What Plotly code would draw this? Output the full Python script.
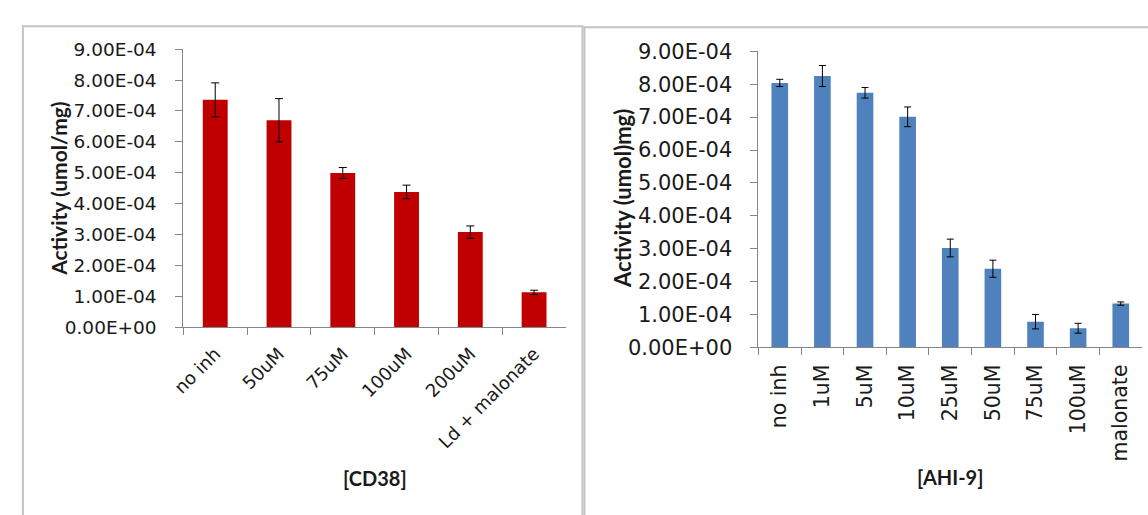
import plotly.graph_objects as go

W, H = 1148, 515

# CD38 panel
cd38_cats = ["no inh", "50uM", "75uM", "100uM", "200uM", "Ld + malonate"]
cd38_vals = [7.36e-4, 6.70e-4, 4.99e-4, 4.38e-4, 3.08e-4, 1.13e-4]
cd38_err = [0.55e-4, 0.70e-4, 0.18e-4, 0.22e-4, 0.20e-4, 0.07e-4]

# AHI-9 panel
ahi_cats = ["no inh", "1uM", "5uM", "10uM", "25uM", "50uM", "75uM", "100uM", "malonate"]
ahi_vals = [8.04e-4, 8.25e-4, 7.74e-4, 7.01e-4, 3.02e-4, 2.39e-4, 0.78e-4, 0.58e-4, 1.33e-4]
ahi_err = [0.11e-4, 0.32e-4, 0.16e-4, 0.30e-4, 0.27e-4, 0.26e-4, 0.22e-4, 0.15e-4, 0.05e-4]

y_tick_vals = [i * 1e-4 for i in range(10)]
y_tick_text = ["0.00E+00", "1.00E-04", "2.00E-04", "3.00E-04", "4.00E-04",
               "5.00E-04", "6.00E-04", "7.00E-04", "8.00E-04", "9.00E-04"]

AXIS_GRAY = "#868686"
TICK_FONT = "DejaVu Sans"
TITLE_FONT = "Lato"


def px_x(v):
    return v / W


def px_y(v):
    return 1 - v / H


fig = go.Figure()

fig.add_trace(go.Bar(
    x=cd38_cats, y=cd38_vals, xaxis="x", yaxis="y",
    marker=dict(color="#C00000", line=dict(width=0)),
    error_y=dict(type="data", array=cd38_err, visible=True,
                 color="#000000", thickness=1, width=4),
    showlegend=False,
))

fig.add_trace(go.Bar(
    x=ahi_cats, y=ahi_vals, xaxis="x2", yaxis="y2",
    marker=dict(color="#4F81BD", line=dict(width=0)),
    error_y=dict(type="data", array=ahi_err, visible=True,
                 color="#000000", thickness=1, width=3.5),
    showlegend=False,
))

common_x = dict(
    type="category", showline=True, linecolor=AXIS_GRAY, linewidth=1,
    ticks="outside", tickcolor=AXIS_GRAY, ticklen=7, tickson="boundaries",
    showgrid=False, zeroline=False, color="#1a1a1a",
)
common_y = dict(
    range=[0, 9e-4], showline=True, linecolor=AXIS_GRAY, linewidth=1,
    ticks="outside", tickcolor=AXIS_GRAY, ticklen=7,
    tickvals=y_tick_vals, ticktext=y_tick_text,
    showgrid=False, zeroline=False, color="#1a1a1a",
)

fig.update_layout(
    width=W, height=H,
    margin=dict(l=0, r=0, t=0, b=0),
    paper_bgcolor="white", plot_bgcolor="white",
    bargap=0.61,
    xaxis=dict(common_x, domain=[px_x(172.3), px_x(559.3)], anchor="y",
               tickangle=-45, ticklabelstandoff=8,
               tickfont=dict(family=TICK_FONT, size=18, color="#1a1a1a")),
    yaxis=dict(common_y, domain=[px_y(330.7), px_y(39)], anchor="x",
               ticklabelstandoff=15,
               tickfont=dict(family=TICK_FONT, size=18.5, color="#1a1a1a")),
    xaxis2=dict(common_x, domain=[px_x(754), px_x(1142)], anchor="y2",
                tickangle=-90, ticklabelstandoff=8,
                tickfont=dict(family=TICK_FONT, size=20.5, color="#1a1a1a")),
    yaxis2=dict(common_y, domain=[px_y(351.7), px_y(41.3)], anchor="x2",
                ticklabelstandoff=14,
                tickfont=dict(family=TICK_FONT, size=21, color="#1a1a1a")),
)

# Panel frames
fig.add_shape(type="rect", xref="paper", yref="paper",
              x0=px_x(10), x1=px_x(576), y0=px_y(530), y1=px_y(15),
              line=dict(color="#C4C4C4", width=2), fillcolor="rgba(0,0,0,0)",
              layer="below")
fig.add_shape(type="rect", xref="paper", yref="paper",
              x0=px_x(578), x1=px_x(1160), y0=px_y(530), y1=px_y(16),
              line=dict(color="#C4C4C4", width=2), fillcolor="rgba(0,0,0,0)",
              layer="below")

title_font = dict(family=TITLE_FONT, size=21, color="#1a1a1a", weight="bold")

annotations = [
    dict(text="[CD38]", x=px_x(365.8), y=px_y(489), font=dict(title_font, size=20)),
    dict(text="[AHI-9]", x=px_x(948), y=px_y(488), font=dict(title_font, size=20)),
    dict(text="Activity (umol/mg)", x=px_x(46), y=px_y(185), textangle=-90,
         font=dict(title_font, size=21)),
    dict(text="Activity (umol)mg)", x=px_x(617), y=px_y(196), textangle=-90,
         font=dict(title_font, size=22)),
]
for a in annotations:
    fig.add_annotation(xref="paper", yref="paper", showarrow=False,
                       xanchor="center", yanchor="middle", **a)

fig.write_html("out.html")
